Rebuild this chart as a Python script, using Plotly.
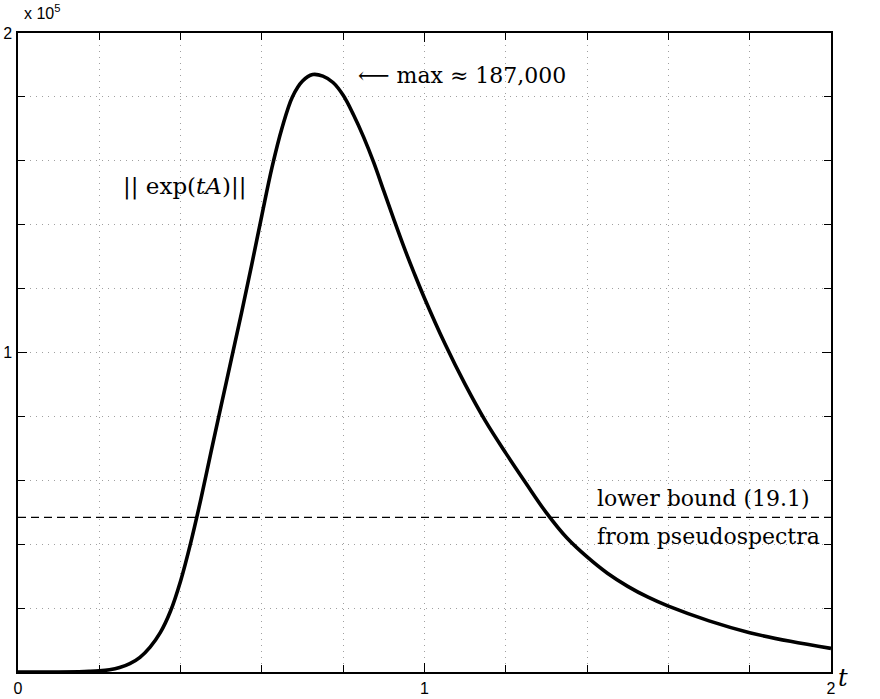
import plotly.graph_objects as go

# Curve ||exp(tA)||
t_vals = [0.0, 0.10, 0.15, 0.175, 0.20, 0.225, 0.25, 0.275, 0.30, 0.325, 0.35, 0.375,
          0.40, 0.425, 0.45, 0.475, 0.50, 0.525, 0.55, 0.575, 0.60, 0.625, 0.65,
          0.675, 0.70, 0.725, 0.75, 0.775, 0.80, 0.825, 0.85, 0.875, 0.90, 0.925,
          0.95, 0.975, 1.00, 1.05, 1.10, 1.15, 1.20, 1.25, 1.30, 1.35, 1.40, 1.45,
          1.50, 1.55, 1.60, 1.70, 1.80, 1.90, 2.00]
norm_vals = [0, 0, 80, 180, 350, 700, 1400, 2600, 4600, 7800, 12300, 19000,
             28500, 40500, 54200, 69000, 83500, 98000, 112500, 127500, 143000, 158000, 170500,
             180000, 185000, 187000, 186500, 184500, 180500, 174500, 167500, 159500, 150500, 141500,
             132800, 124700, 117000, 102800, 90000, 78500, 68500, 59000, 49800, 42000, 36000, 30900,
             26800, 23400, 20600, 16000, 12300, 9600, 7400]

bound_t = [0.0, 2.0]
bound_val = [48400, 48400]

x_ticks = [0, 1, 2]
x_ticktext = ["0", "1", "2"]
y_ticks = [100000, 200000]
y_ticktext = ["1", "2"]

fig = go.Figure()
fig.add_trace(go.Scatter(x=bound_t, y=bound_val, mode="lines",
                         line=dict(color="black", width=1.2, dash="8px,5px"),
                         showlegend=False, hoverinfo="skip"))
fig.add_trace(go.Scatter(x=t_vals, y=norm_vals, mode="lines",
                         line=dict(color="black", width=3.6, shape="spline", smoothing=1.0),
                         showlegend=False))

grid_col = "#a0a0a0"
gdash = "1px,5px"
tick_font = dict(family="Liberation Sans, Arial", size=16, color="black")
fig.update_xaxes(range=[0, 2], tickvals=x_ticks, ticktext=x_ticktext, automargin=False,
                 ticks="inside", ticklen=9, tickcolor="black", tickwidth=1,
                 showline=True, linecolor="black", linewidth=1.5, mirror="allticks",
                 showgrid=True, gridcolor=grid_col, griddash=gdash, gridwidth=1,
                 zeroline=False,
                 minor=dict(dtick=0.2, ticks="inside", ticklen=7, tickcolor="black",
                            showgrid=True, gridcolor=grid_col, griddash=gdash, gridwidth=1),
                 tickfont=tick_font, ticklabelstandoff=1)
fig.update_yaxes(range=[0, 200000], tickvals=y_ticks, ticktext=y_ticktext, automargin=False,
                 ticks="inside", ticklen=9, tickcolor="black", tickwidth=1,
                 showline=True, linecolor="black", linewidth=1.5, mirror="allticks",
                 showgrid=True, gridcolor=grid_col, griddash=gdash, gridwidth=1,
                 zeroline=False,
                 minor=dict(dtick=20000, ticks="inside", ticklen=7, tickcolor="black",
                            showgrid=True, gridcolor=grid_col, griddash=gdash, gridwidth=1),
                 tickfont=tick_font, ticklabelstandoff=1)

serif = "DejaVu Serif, serif"
ann = [
    dict(x=0.4157, y=0.934, text="⟵ max ≈ 187,000", xanchor="left", yanchor="middle",
         font=dict(family=serif, size=22, color="black")),
    dict(x=0.1267, y=0.759, text="|| exp(<i>tA</i>)||", xanchor="left", yanchor="middle",
         font=dict(family=serif, size=23, color="black")),
    dict(x=0.7097, y=0.2723, text="lower bound (19.1)", xanchor="left", yanchor="middle",
         font=dict(family=serif, size=22, color="black")),
    dict(x=0.7097, y=0.2113, text="from pseudospectra", xanchor="left", yanchor="middle",
         font=dict(family=serif, size=22, color="black")),
    dict(x=1.0148, y=-0.0094, text="<i>t</i>", xanchor="center", yanchor="middle",
         font=dict(family=serif, size=24, color="black")),
    dict(x=0.0049, y=1.033, text="x 10<sup>5</sup>", xanchor="left", yanchor="middle",
         font=dict(family="Liberation Sans, Arial", size=16, color="black")),
]
for a in ann:
    fig.add_annotation(xref="paper", yref="paper", showarrow=False, **a)

fig.update_layout(width=880, height=699, margin=dict(l=18, r=49, t=33, b=27),
                  plot_bgcolor="white", paper_bgcolor="white")
fig.write_html("out.html")
